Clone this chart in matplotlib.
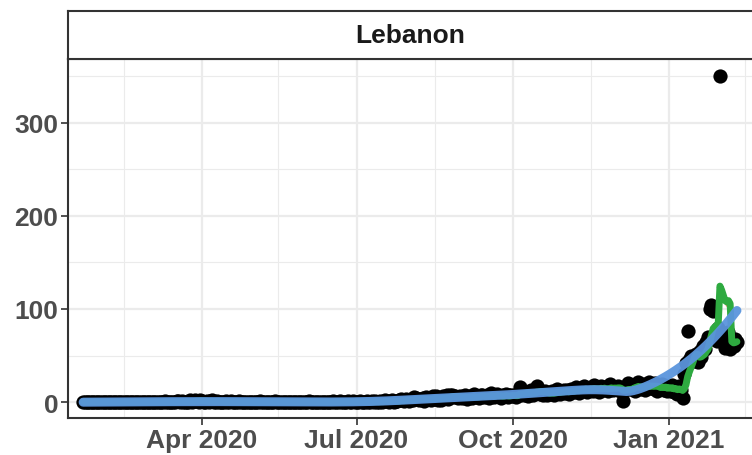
import numpy as np
import pandas as pd
import matplotlib

matplotlib.use("Agg")
import matplotlib.pyplot as plt
import matplotlib.dates as mdates

# daily deaths, Lebanon, from 2020-01-22
deaths_jan20 = [0, 0, 0, 0, 0, 0, 0, 0, 0, 0]
deaths_feb20 = [0, 0, 0, 0, 0, 0, 0, 0, 0, 0, 0, 0, 0, 0, 0, 0, 0, 0, 0, 0,
                0, 0, 0, 0, 0, 0, 0, 0, 0]
deaths_mar20 = [0, 0, 0, 0, 0, 0, 0, 0, 0, 1, 0, 0, 0, 0, 0, 0, 1, 1, 0, 1,
                0, 0, 0, 0, 2, 0, 1, 2, 1, 0, 2]
deaths_apr20 = [1, 0, 0, 1, 0, 1, 2, 0, 0, 1, 0, 0, 0, 0, 1, 0, 0, 1, 0, 0,
                0, 0, 1, 0, 0, 0, 0, 0, 0, 0]
deaths_may20 = [0, 0, 0, 0, 1, 0, 0, 0, 0, 0, 0, 0, 0, 1, 0, 0, 0, 0, 0, 0,
                0, 0, 0, 0, 0, 0, 0, 0, 0, 0, 0]
deaths_jun20 = [0, 0, 1, 0, 0, 0, 0, 0, 0, 0, 0, 0, 0, 0, 0, 0, 1, 0, 0, 0,
                1, 0, 0, 0, 0, 1, 0, 0, 1, 0]
deaths_jul20 = [0, 0, 1, 0, 0, 0, 1, 0, 0, 1, 0, 1, 0, 0, 1, 0, 1, 2, 1, 0,
                1, 2, 0, 1, 1, 2, 3, 2, 1, 3, 2]
deaths_aug20 = [1, 3, 2, 5, 4, 3, 2, 3, 4, 1, 5, 4, 3, 2, 6, 3, 6, 2, 4, 2,
                6, 5, 7, 3, 7, 8, 5, 6, 5, 4, 6]
deaths_sep20 = [4, 6, 7, 3, 5, 6, 4, 9, 6, 5, 4, 7, 8, 5, 6, 8, 4, 10, 6, 5,
                7, 9, 6, 4, 8, 6, 9, 5, 7, 8]
deaths_oct20 = [6, 8, 5, 9, 16, 7, 10, 8, 11, 6, 9, 13, 8, 10, 17, 12, 9, 11, 8, 12,
                7, 10, 9, 12, 8, 10, 14, 11, 9, 12, 13]
deaths_nov20 = [10, 13, 9, 14, 12, 11, 16, 13, 10, 15, 12, 17, 14, 11, 13, 16, 12, 18, 14, 15,
                11, 17, 13, 16, 14, 12, 19, 15, 13, 16]
deaths_dec20 = [14, 17, 12, 15, 1, 13, 16, 20, 14, 18, 15, 12, 17, 21, 14, 16, 19, 13, 18, 22,
                15, 17, 14, 20, 12, 16, 15, 19, 13, 17, 12]
deaths_jan21 = [16, 12, 18, 11, 15, 9, 17, 13, 4, 30, 42, 76, 45, 50, 48, 44, 52, 43, 55, 48,
                60, 57, 64, 70, 100, 104, 98, 73, 66, 80, 351]
deaths_feb21 = [70, 65, 58, 64, 75, 57, 66, 60, 68, 64]

country = "Lebanon"
start_date = "2020-01-22"
month_breaks = ["2020-04-01", "2020-07-01", "2020-10-01", "2021-01-01"]
month_labels = ["Apr 2020", "Jul 2020", "Oct 2020", "Jan 2021"]
minor_breaks = ["2020-02-15", "2020-05-16", "2020-08-16", "2020-11-16", "2021-02-15"]
y_breaks = [0, 100, 200, 300]
y_minor = [50, 150, 250, 350]


def lowess(x, y, frac, degree=2):
    n = len(x)
    k = int(np.ceil(frac * n))
    fit = np.empty(n)
    for i, xi in enumerate(x):
        d = np.abs(x - xi)
        h = np.sort(d)[k - 1]
        w = np.clip(1 - (d / h) ** 3, 0, None) ** 3
        u = (x - xi) / h
        X = np.column_stack([u ** p for p in range(degree + 1)])
        sw = np.sqrt(w)
        coef, *_ = np.linalg.lstsq(X * sw[:, None], y * sw, rcond=None)
        fit[i] = coef[0]
    return fit


deaths = np.array(
    deaths_jan20 + deaths_feb20 + deaths_mar20 + deaths_apr20 + deaths_may20
    + deaths_jun20 + deaths_jul20 + deaths_aug20 + deaths_sep20 + deaths_oct20
    + deaths_nov20 + deaths_dec20 + deaths_jan21 + deaths_feb21,
    dtype=float,
)
dates = pd.date_range(start_date, periods=len(deaths), freq="D")
df = pd.DataFrame({"date": dates, "deaths": deaths})
df["x"] = mdates.date2num(df["date"])
df["avg7"] = df["deaths"].rolling(7, min_periods=1).mean()
df["avg8"] = df["deaths"].rolling(8, min_periods=1).mean()
df["smooth"] = lowess(df["x"].to_numpy(), df["deaths"].to_numpy(), 0.35)

plt.rcParams["font.family"] = ["Liberation Sans", "DejaVu Sans"]

W, H = 752, 456
fig = plt.figure(figsize=(W / 100, H / 100), dpi=100)
left, right = 68, 762
p_top, p_bot = 60, 419
s_top = 12
ax = fig.add_axes([left / W, 1 - p_bot / H, (right - left) / W, (p_bot - p_top) / H])
strip = fig.add_axes([left / W, 1 - p_top / H, (right - left) / W, (p_top - s_top) / H])

ax.scatter(df["x"], df["deaths"], s=105, color="black", zorder=3, linewidths=0)
ax.plot(df["x"], df["avg8"], color="#F8766D", lw=1.2, zorder=4)
ax.plot(df["x"], df["avg7"], color="#2EAA40", lw=5, zorder=5, solid_capstyle="round")
ax.plot(df["x"], df["smooth"], color="#5B95DD", lw=6.5, zorder=6, alpha=0.95,
        solid_capstyle="round")

x0 = mdates.date2num(pd.Timestamp("2020-04-01"))
x1 = mdates.date2num(pd.Timestamp("2021-01-01"))
px_per_day = (669 - 202) / (x1 - x0)
ax.set_xlim(x0 - (202 - left) / px_per_day, x1 + (right - 669) / px_per_day)
ax.set_ylim(-17.2, 368.8)

ax.set_xticks(mdates.date2num(pd.to_datetime(month_breaks)))
ax.set_xticklabels(month_labels)
ax.set_xticks(mdates.date2num(pd.to_datetime(minor_breaks)), minor=True)
ax.set_yticks(y_breaks)
ax.set_yticks(y_minor, minor=True)
ax.grid(True, which="major", color="#EBEBEB", lw=1.6, zorder=0)
ax.grid(True, which="minor", color="#EBEBEB", lw=0.8, zorder=0)
ax.set_axisbelow(True)
ax.tick_params(which="major", length=5, width=1.2, color="#333333",
               labelsize=19, labelcolor="#4D4D4D", pad=2)
ax.tick_params(which="minor", length=0)
for lab in ax.get_xticklabels() + ax.get_yticklabels():
    lab.set_fontweight("bold")
for sp in ax.spines.values():
    sp.set_color("#333333")
    sp.set_linewidth(1.5)

strip.set_xticks([])
strip.set_yticks([])
strip.set_facecolor("white")
for sp in strip.spines.values():
    sp.set_color("#333333")
    sp.set_linewidth(1.5)
strip.text(0.5 * (752 - left) / (right - left), 0.5, country, transform=strip.transAxes,
           ha="center", va="center", fontsize=19, fontweight="bold", color="#1A1A1A")

fig.savefig("out.png", dpi=100)
plt.close(fig)
